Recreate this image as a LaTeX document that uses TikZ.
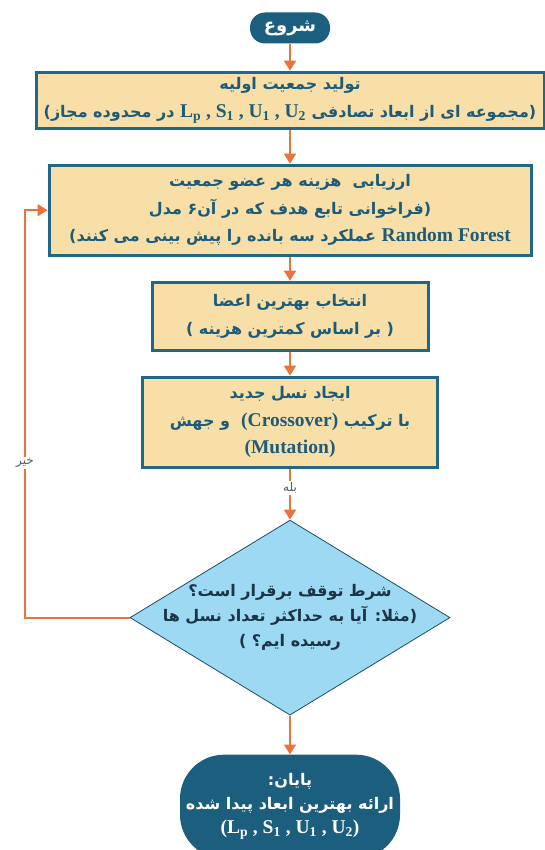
\documentclass[tikz,border=0pt]{standalone}
\usepackage{fontspec}
\usepackage{xcolor}
\usetikzlibrary{shapes,shapes.geometric,arrows.meta,positioning,calc}
\TeXXeTstate=1
\newfontfamily\fa[Script=Arabic]{DejaVu Sans}
\newfontfamily\latf{Liberation Serif}
\newcommand{\lat}[1]{\beginL{\latf\bfseries\fontsize{19.5}{24}\selectfont #1}\endL}
\newcommand{\fal}[1]{\beginR #1\endR}
\definecolor{tealdark}{RGB}{27,94,126}
\definecolor{boxedge}{RGB}{32,103,138}
\definecolor{boxfill}{RGB}{248,223,167}
\definecolor{boxtext}{RGB}{29,91,121}
\definecolor{flowline}{RGB}{232,116,59}
\definecolor{condfill}{RGB}{157,217,243}
\definecolor{condedge}{RGB}{30,77,99}
\definecolor{condtext}{RGB}{27,52,70}

\begin{document}
\begin{tikzpicture}[
    x=1pt, y=-1pt,
    node distance=24pt,
    terminal/.style={rectangle, draw=none, fill=tealdark, text=white, rounded corners=15pt, align=center, font=\fa\bfseries\fontsize{16}{24}\selectfont},
    process/.style={rectangle, draw=boxedge, line width=3pt, fill=boxfill, text=boxtext, align=center, inner sep=2pt, font=\fa\bfseries\fontsize{16}{27.5}\selectfont},
    decision/.style={diamond, draw=condedge, line width=0.8pt, fill=condfill, inner sep=0pt},
    condlabel/.style={align=center, text=condtext, font=\fa\bfseries\fontsize{16}{25}\selectfont},
    flow/.style={draw=flowline, line width=1.8pt, -{Triangle[width=12pt,length=10pt]}},
    note/.style={fill=white, text=black!65, inner sep=1.5pt, font=\fa\fontsize{12}{14}\selectfont}
]
    \useasboundingbox (0,0) rectangle (545,850);

    \node [terminal, minimum width=80pt, minimum height=31pt, font=\fa\bfseries\fontsize{18}{24}\selectfont] (start) at (290,28) {\fal{شروع}};

    \node [process, minimum width=508pt, minimum height=56pt, below=27pt of start] (init) {%
        \fal{تولید جمعیت اولیه}\\
        \fal{(مجموعه ای از ابعاد تصادفی \lat{L\textsubscript{p} , S\textsubscript{1} , U\textsubscript{1} , U\textsubscript{2}} در محدوده مجاز)}};

    \node [process, minimum width=482pt, minimum height=90pt, below=34pt of init] (eval) {%
        \fal{ارزیابی \ هزینه هر عضو جمعیت}\\
        \fal{(فراخوانی تابع هدف که در آن۶ مدل}\\
        \fal{\lat{Random Forest} عملکرد سه بانده را پیش بینی می کنند)}};

    \node [process, minimum width=276pt, minimum height=68pt, below=of eval] (select) {%
        \fal{انتخاب بهترین اعضا}\\
        \fal{( بر اساس کمترین هزینه )}};

    \node [process, minimum width=295pt, minimum height=90pt, below=of select] (breed) {%
        \fal{ایجاد نسل جدید}\\
        \fal{با ترکیب \lat{(Crossover)} \ و جهش}\\
        \lat{(Mutation)}};

    \node [decision, minimum width=320pt, minimum height=195pt, below=51pt of breed] (cond) {};
    \node [condlabel] (condtxt) at (cond) {%
        \fal{شرط توقف برقرار است؟}\\
        \fal{(مثلا: آیا به حداکثر تعداد نسل ها}\\
        \fal{رسیده ایم؟ )}};

    \node [terminal, rounded corners=44pt, minimum width=220pt, minimum height=104pt, below=39pt of cond] (stop) {%
        \fal{پایان:}\\
        \fal{ارائه بهترین ابعاد پیدا شده}\\
        \lat{(L\textsubscript{p} , S\textsubscript{1} , U\textsubscript{1} , U\textsubscript{2})}};

    \coordinate (back) at (25,0);

    \draw [flow] (start) -- (init);
    \draw [flow] (init) -- (eval);
    \draw [flow] (eval) -- (select);
    \draw [flow] (select) -- (breed);
    \draw [flow] (breed) -- node [note, pos=0.38] {\fal{بله}} (cond);
    \draw [flow] (cond) -- (stop);
    \draw [flow] (cond.west) -- (cond.west -| back) -- node [note, pos=0.38] {\fal{خیر}} (eval.west -| back) -- (eval.west);

\end{tikzpicture}
\end{document}
